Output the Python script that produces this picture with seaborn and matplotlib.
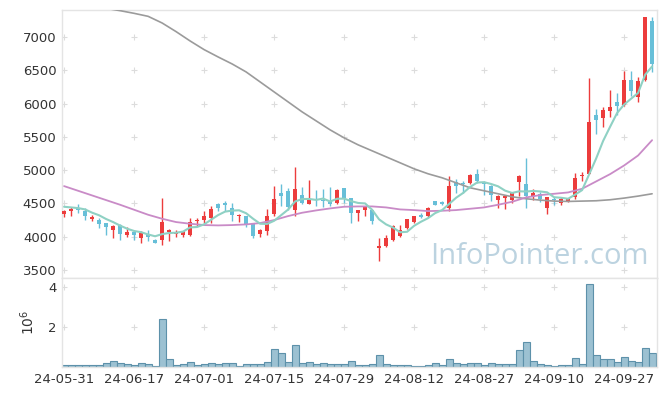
import numpy as np
import pandas as pd
import matplotlib
matplotlib.use("Agg")
import matplotlib.pyplot as plt
import seaborn as sns

# ---------------- data ----------------
holidays = ["2024-06-06", "2024-08-15", "2024-09-16", "2024-09-17",
            "2024-09-18", "2024-10-01", "2024-10-03"]
dates = pd.bdate_range("2024-05-31", "2024-10-07", freq="C", holidays=holidays)

opens = [4340, 4380, 4435, 4390, 4270, 4245, 4205, 4105, 4180, 4030,
         4065, 3975, 4035, 3955, 3945, 4070, 4040, 4020, 4030, 4235,
         4255, 4280, 4495, 4505, 4430, 4305, 4305, 4195, 4045, 4080,
         4345, 4660, 4680, 4405, 4630, 4495, 4565, 4555, 4515, 4505,
         4730, 4580, 4355, 4395, 4405, 3830, 3855, 3945, 4005, 4130,
         4215, 4330, 4315, 4530, 4515, 4430, 4815, 4800, 4805, 4945,
         4815, 4765, 4545, 4580, 4545, 4815, 4795, 4605, 4645, 4430,
         4560, 4505, 4530, 4590, 4915, 4945, 5830, 5780, 5895, 6025,
         5980, 6355, 6105, 6355, 7240]
highs = [4405, 4440, 4495, 4430, 4330, 4280, 4210, 4170, 4185, 4140,
         4070, 4090, 4105, 3960, 4580, 4110, 4105, 4085, 4280, 4280,
         4380, 4455, 4505, 4530, 4505, 4345, 4310, 4200, 4120, 4415,
         4765, 4795, 4730, 5050, 4745, 4855, 4705, 4720, 4750, 4710,
         4735, 4585, 4405, 4455, 4405, 3980, 4030, 4180, 4180, 4270,
         4305, 4360, 4440, 4540, 4530, 4905, 4870, 4830, 4935, 5015,
         4830, 4780, 4630, 4605, 4665, 4930, 5180, 4715, 4665, 4590,
         4590, 4600, 4580, 4955, 4965, 6380, 5915, 5955, 6205, 6155,
         6490, 6490, 6405, 7305, 7305]
lows = [4295, 4305, 4360, 4255, 4230, 4130, 4030, 3980, 3955, 3990,
        3955, 3905, 3930, 3900, 3880, 3930, 3990, 3990, 4005, 4155,
        4205, 4205, 4380, 4380, 4230, 4220, 4145, 3980, 3995, 4030,
        4305, 4460, 4405, 4305, 4495, 4495, 4455, 4445, 4455, 4490,
        4510, 4210, 4230, 4315, 4195, 3630, 3845, 3940, 3990, 4110,
        4200, 4280, 4300, 4470, 4480, 4380, 4660, 4660, 4790, 4805,
        4620, 4530, 4430, 4415, 4500, 4605, 4430, 4555, 4520, 4345,
        4480, 4470, 4520, 4570, 4830, 4945, 5545, 5645, 5795, 5830,
        5965, 6120, 6020, 6340, 6480]
closes = [4390, 4420, 4395, 4305, 4295, 4195, 4140, 4165, 4040, 4065,
          4020, 4050, 3995, 3905, 4225, 4105, 4070, 4080, 4220, 4255,
          4305, 4415, 4430, 4480, 4330, 4330, 4195, 4015, 4105, 4315,
          4565, 4615, 4440, 4710, 4500, 4570, 4545, 4540, 4490, 4705,
          4580, 4355, 4405, 4455, 4230, 3855, 3980, 4165, 4105, 4265,
          4305, 4290, 4430, 4480, 4495, 4765, 4755, 4790, 4930, 4830,
          4790, 4620, 4615, 4605, 4655, 4915, 4605, 4655, 4570, 4590,
          4545, 4565, 4580, 4880, 4930, 5720, 5755, 5905, 5945, 5965,
          6355, 6195, 6340, 7305, 6590]
prev_closes = [4470, 4445, 4405, 4540]          # the 4 sessions before 24-05-31

# volume, in millions of shares
volume = [0.12, 0.12, 0.12, 0.12, 0.12, 0.12, 0.22, 0.32, 0.22, 0.17,
          0.12, 0.22, 0.17, 0.07, 2.38, 0.38, 0.12, 0.17, 0.27, 0.12,
          0.17, 0.22, 0.17, 0.22, 0.22, 0.07, 0.17, 0.17, 0.17, 0.27,
          0.89, 0.68, 0.27, 1.08, 0.22, 0.27, 0.17, 0.22, 0.17, 0.17,
          0.17, 0.32, 0.12, 0.12, 0.17, 0.62, 0.17, 0.12, 0.12, 0.12,
          0.07, 0.07, 0.12, 0.22, 0.12, 0.41, 0.22, 0.17, 0.22, 0.22,
          0.12, 0.22, 0.17, 0.17, 0.17, 0.84, 1.23, 0.32, 0.17, 0.12,
          0.07, 0.12, 0.12, 0.46, 0.17, 4.17, 0.62, 0.38, 0.38, 0.27,
          0.51, 0.32, 0.27, 0.94, 0.68]

# 20-day average, read every second session (sessions 0, 2, ..., 84)
ma20_read = [4760, 4690, 4620, 4550, 4480, 4405, 4330, 4270, 4220, 4195,
             4175, 4170, 4175, 4185, 4205, 4250, 4310, 4360, 4395, 4425,
             4450, 4455, 4455, 4440, 4410, 4400, 4385, 4390, 4400, 4420,
             4440, 4480, 4525, 4590, 4625, 4645, 4665, 4720, 4830, 4940,
             5070, 5220, 5450]
# 60-day average, read every second session from session 4 on
ma60_read = [7480, 7430, 7395, 7355, 7310, 7210, 7080, 6940, 6810, 6700,
             6595, 6475, 6325, 6175, 6025, 5875, 5740, 5605, 5485, 5380,
             5290, 5200, 5110, 5020, 4945, 4885, 4810, 4735, 4690, 4645,
             4600, 4570, 4550, 4535, 4530, 4535, 4540, 4555, 4580, 4610,
             4645]

tick_every = 10
price_ticks = [3500, 4000, 4500, 5000, 5500, 6000, 6500, 7000]
vol_ticks = [2, 4]

# ---------------- styling ----------------
RED = "#ec3c3c"
BLUE = "#67bfd8"
TEAL = "#8fd1c4"
PURPLE = "#c98bc7"
GRAY = "#9b9b9b"
GRID = "#dcdcdc"
SPINE = "#e4e4e4"

sns.set_theme(style="white")
plt.rcParams["font.family"] = ["DejaVu Sans"]

n = len(dates)
idx = np.arange(n)
df = pd.DataFrame({"i": idx, "open": opens, "high": highs, "low": lows,
                   "close": closes, "vol": volume})
all_close = pd.Series(prev_closes + closes, dtype=float)
df["ma5"] = all_close.rolling(5).mean().iloc[len(prev_closes):].to_numpy()
ma20_df = pd.DataFrame({"i": idx[::2], "ma": ma20_read})
ma60_df = pd.DataFrame({"i": idx[4::2], "ma": ma60_read})

fig = plt.figure(figsize=(6.65, 3.96), dpi=100)
W, H = 665, 396
L, R = 62, 657
axp = fig.add_axes([L / W, (H - 278) / H, (R - L) / W, (278 - 10) / H])
axv = fig.add_axes([L / W, (H - 367) / H, (R - L) / W, (367 - 278) / H], sharex=axp)

xlim = (-0.3, n - 0.3)

# grid crosses
xt = idx[::tick_every]
gp = pd.DataFrame([(x, y) for x in xt for y in price_ticks], columns=["x", "y"])
sns.scatterplot(data=gp, x="x", y="y", marker="+", s=18, color=GRID,
                linewidth=0.8, ax=axp, zorder=0, legend=False)
gv = pd.DataFrame([(x, y) for x in xt for y in vol_ticks], columns=["x", "y"])
sns.scatterplot(data=gv, x="x", y="y", marker="+", s=18, color=GRID,
                linewidth=0.8, ax=axv, zorder=0, legend=False)

# candles
o = df["open"].to_numpy(float)
c = df["close"].to_numpy(float)
up = c >= o
cols = np.where(up, RED, BLUE)
axp.vlines(idx, df["low"], df["high"], colors=cols, lw=1.0, zorder=2)
body = np.maximum(np.abs(c - o), 14)
axp.bar(idx, body, bottom=np.minimum(o, c), width=0.68, color=cols,
        linewidth=0, zorder=3)

# moving averages
sns.lineplot(data=ma60_df, x="i", y="ma", color=GRAY, lw=1.2, ax=axp, zorder=4)
sns.lineplot(data=ma20_df, x="i", y="ma", color=PURPLE, lw=1.3, ax=axp, zorder=4)
sns.lineplot(data=df, x="i", y="ma5", color=TEAL, lw=1.5, ax=axp, zorder=5)

axp.set_ylim(3380, 7405)
axp.set_yticks(price_ticks)
axp.set_xlim(*xlim)

# watermark
axp.text(0.986, 0.080, "InfoPointer.com", transform=axp.transAxes,
         ha="right", va="center", fontsize=21, color="#bcd3e0",
         family=["Open Sans", "DejaVu Sans"], zorder=1)

# volume
sns.barplot(data=df, x="i", y="vol", native_scale=True, width=1.0,
            color="#9cc1d2", edgecolor="#5d91aa", linewidth=0.8,
            saturation=1, ax=axv, zorder=2)
axv.set_ylim(0, 4.45)
axv.set_yticks(vol_ticks)
axv.set_yticklabels([str(v) for v in vol_ticks])
axv.set_xlim(*xlim)
axv.set_xticks(xt)
axv.set_xticklabels([d.strftime("%y-%m-%d") for d in dates[::tick_every]])
axv.set_xlabel("")
axv.set_ylabel(r"$10^6$", fontsize=10, color="#333333", labelpad=8)

axp.set_xlabel("")
axp.set_ylabel("")
plt.setp(axp.get_xticklabels(), visible=False)

for ax in (axp, axv):
    ax.tick_params(axis="both", length=0, labelsize=9.5, colors="#333333", pad=4)
    for s in ax.spines.values():
        s.set_color(SPINE)
        s.set_linewidth(1.0)
    ax.set_facecolor("white")
    ax.grid(False)

fig.savefig("out.png", dpi=100, facecolor="white")
